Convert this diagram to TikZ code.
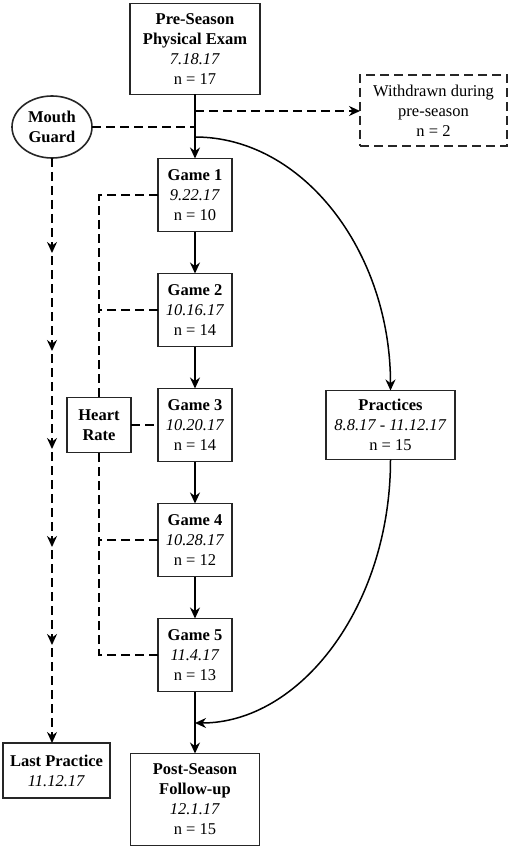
\documentclass[tikz,border=0pt]{standalone}
\usepackage{fontspec}
\setmainfont{Liberation Serif}
\usetikzlibrary{positioning,arrows.meta,shapes.geometric,decorations.markings}

\begin{document}
\begin{tikzpicture}[
	x=1pt,y=1pt,
	font=\fontsize{16.5}{20}\selectfont,
	>={Stealth[length=11pt,width=10pt]},
	line width=1.5pt,
	n_box/.style={
		rectangle,
		draw=black!85,
		line width=1.6pt,
		fill=white,
		align=center,
		inner sep=2pt,
		outer sep=0pt,
		},
	n_game/.style={n_box, minimum width=74pt, minimum height=73pt},
	n_dash/.style={line width=1.5pt, dash pattern=on 9pt off 5pt},
	]

	\useasboundingbox (0,0) rectangle (510,-850);

	\node(pre)[n_box, minimum width=130pt, minimum height=91pt] at (195,-49)
		{\textbf{Pre-Season}\\\textbf{Physical Exam}\\\textit{7.18.17}\\n = 17};
	\node(g1)[n_game, below=64pt of pre]{\textbf{Game 1}\\\textit{9.22.17}\\n = 10};
	\node(g2)[n_game, below=42pt of g1]{\textbf{Game 2}\\\textit{10.16.17}\\n = 14};
	\node(g3)[n_game, below=42pt of g2]{\textbf{Game 3}\\\textit{10.20.17}\\n = 14};
	\node(g4)[n_game, below=42pt of g3]{\textbf{Game 4}\\\textit{10.28.17}\\n = 12};
	\node(g5)[n_game, below=42pt of g4]{\textbf{Game 5}\\\textit{11.4.17}\\n = 13};
	\node(post)[n_box, below=62pt of g5, minimum width=129pt, minimum height=92pt]
		{\textbf{Post-Season}\\\textbf{Follow-up}\\\textit{12.1.17}\\n = 15};
	\node(hr)[n_box, left=27pt of g3, minimum width=64pt, minimum height=55pt]{\textbf{Heart}\\\textbf{Rate}};
	\node(prac)[n_box, right=94pt of g3, minimum width=129pt, minimum height=69pt]
		{\textbf{Practices}\\\textit{8.8.17 - 11.12.17}\\n = 15};
	\node(wd)[n_box, n_dash, minimum width=147pt, minimum height=71pt] at (433.5,-110.5)
		{Withdrawn during\\pre-season\\n = 2};
	\node(mg)[n_box, ellipse, minimum width=80pt, minimum height=62pt] at (52,-127){\textbf{Mouth}\\\textbf{Guard}};
	\node(lp)[n_box, minimum width=107pt, minimum height=55pt] at (56.5,-770.5)
		{\textbf{Last Practice}\\\textit{11.12.17}};

	\coordinate(split) at (195,-111);
	\coordinate(mgjoin) at (195,-127);
	\coordinate(cstart) at (195,-137);
	\coordinate(merge) at (195,-723);

	% main flow
	\path (pre) edge[->] (g1);
	\path (g1) edge[->] (g2);
	\path (g2) edge[->] (g3);
	\path (g3) edge[->] (g4);
	\path (g4) edge[->] (g5);
	\path (g5) edge[->] (post);
	\path (split) edge[->, n_dash] (split -| wd.west);
	\path (mg) edge[n_dash] (mgjoin);

	% practices
	\draw[->] (cstart) .. controls +(108,0) and +(0,139) .. (prac.north);
	\draw[->] (prac.south) .. controls +(0,-147) and +(105,0) .. (merge);

	% heart rate
	\draw[n_dash] (g1.west) -| (hr.north);
	\draw[n_dash] (g5.west) -| (hr.south);
	\draw[n_dash] (g2.west) -- (g2.west -| hr.north);
	\draw[n_dash] (g4.west) -- (g4.west -| hr.south);
	\draw[n_dash] (hr) -- (g3);

	% mouth guard
	\draw[n_dash, ->, postaction={decorate},
		decoration={markings, mark=between positions 95pt and 500pt step 98pt with {\arrow{>}}}]
		(mg.south) -- (mg.south |- lp.north);

\end{tikzpicture}
\end{document}
